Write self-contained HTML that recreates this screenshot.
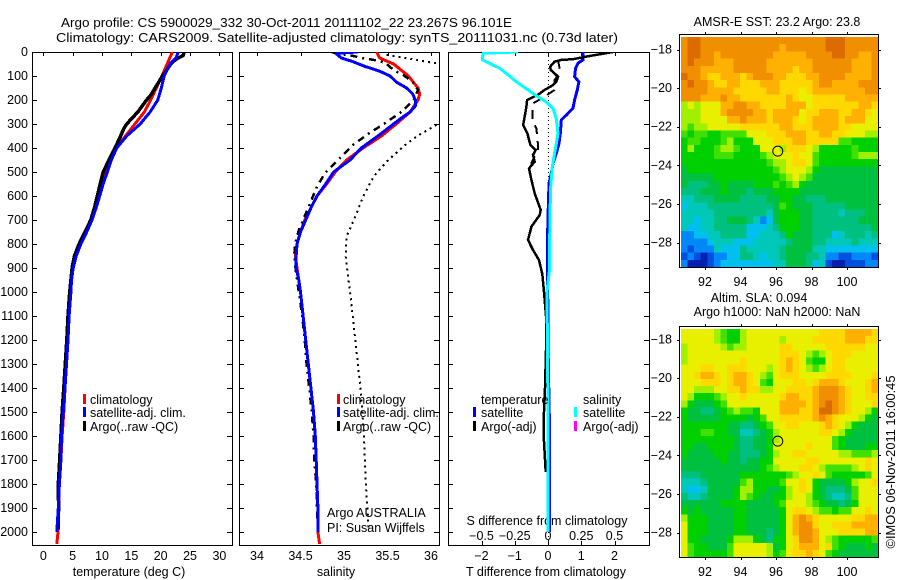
<!DOCTYPE html>
<html>
<head>
<meta charset="utf-8">
<title>Argo profile</title>
<style>
html,body{margin:0;padding:0;background:#fff}
svg{display:block}
text{font-family:"Liberation Sans",sans-serif;font-size:12.5px;fill:#000}
</style>
</head>
<body>
<svg id="fig" xmlns="http://www.w3.org/2000/svg" width="900" height="580" viewBox="0 0 900 580">
<text x="61" y="27" textLength="451" lengthAdjust="spacingAndGlyphs" style="font-size:13px">Argo profile: CS 5900029_332 30-Oct-2011 20111102_22 23.267S 96.101E</text>
<text x="56" y="42" textLength="562" lengthAdjust="spacingAndGlyphs" style="font-size:13px">Climatology: CARS2009. Satellite-adjusted climatology: synTS_20111031.nc (0.73d later)</text>
<g id="layer"></g>
</svg>
<script>
// ---- shared axis labels ----
const depthTicks = [0,100,200,300,400,500,600,700,800,900,1000,1100,1200,1300,1400,1500,1600,1700,1800,1900,2000];
const tempTicks = [0,5,10,15,20,25,30];
const salTicks = [34,34.5,35,35.5,36];
const tDiffTicks = [-2,-1,0,1,2];
const sDiffLabels = ['\u22120.5','\u22120.25','0','0.25','0.5'];
const lonTicks = [92,94,96,98,100];
const latTicks = [-18,-20,-22,-24,-26,-28];

// ---- temperature panel ----
const tClimDepth = [0,100,200,250,300,350,400,450,500,550,600,650,700,750,800,850,900,950,1000,1100,1200,1300,1400,1500,1600,1700,1800,1900,2000,2050];
const tClimVal = [22,20.2,18.3,17.2,15.6,14,12.5,11.5,10.7,10,9.5,8.9,8.3,7.3,6.3,5.5,5,4.8,4.7,4.4,4.2,3.95,3.7,3.5,3.2,3,2.7,2.6,2.5,2.3];
const tSatDepth = [0,25,50,100,150,200,250,300,350,400,450,500,550,600,650,700,750,800,850,900,950,1000,1100,1200,1300,1400,1500,1600,1700,1800,1900,2000];
const tSatVal = [23,22.6,21.6,20.6,20.1,19.5,18.2,16.5,14.2,12.5,11.6,10.9,10.2,9.6,9,8.3,7.4,6.4,5.6,5.1,4.8,4.7,4.4,4.2,3.95,3.7,3.4,3.1,3,2.75,2.55,2.3];
const tArgoDepth = [0,15,30,50,80,100,140,180,200,250,300,320,360,400,450,500,550,600,650,700,750,800,850,900,1000,1100,1200,1300,1400,1500,1600,1700,1800,1900,1990];
const tArgoVal = [24,23.8,22.6,21.7,20.9,20.3,19.3,18.3,17.6,16.1,14.2,13.7,13,12.2,11.2,10.2,9.7,9.2,8.7,8.1,7.1,6.1,5.3,4.9,4.5,4.2,4,3.75,3.5,3.2,3,2.8,2.55,2.6,2.5];

// ---- salinity panel ----
const sClimDepth = [0,25,50,100,150,175,200,250,300,350,400,450,500,550,600,650,700,750,800,850,900,950,1000,1100,1200,1300,1400,1500,1600,1700,1800,1900,2000,2050];
const sClimVal = [35.375,35.41,35.57,35.74,35.85,35.87,35.85,35.76,35.6,35.43,35.22,35.03,34.9,34.8,34.69,34.62,34.55,34.5,34.46,34.44,34.46,34.48,34.5,34.53,34.56,34.59,34.62,34.65,34.67,34.68,34.69,34.7,34.7,34.72];
const sSatDepth = [0,5,10,25,40,60,80,100,125,150,175,200,225,250,275,300,350,400,450,500,550,600,650,700,750,800,850,900,950,1000,1100,1200,1300,1400,1500,1600,1700,1800,1900,2000];
const sSatVal = [35.16,34.92,34.92,34.97,35.1,35.24,35.41,35.53,35.6,35.72,35.79,35.82,35.82,35.76,35.66,35.57,35.39,35.2,35.07,34.88,34.79,34.69,34.62,34.56,34.5,34.46,34.45,34.45,34.48,34.5,34.53,34.56,34.59,34.62,34.65,34.67,34.68,34.69,34.7,34.7];
const sArgoDepth = [0,5,12,26,33,44,75,96,124,158,200,249,297,336,388,450,505,561,630,700,742,797,839,894,1000,1100,1200,1300,1400,1500,1600,1700,1800,1900,1990];
const sArgoVal = [34.86,34.9,35.05,35.22,35.34,35.47,35.57,35.68,35.79,35.85,35.8,35.66,35.47,35.3,35.1,34.93,34.78,34.69,34.61,34.53,34.48,34.44,34.43,34.44,34.48,34.52,34.55,34.57,34.6,34.63,34.65,34.66,34.68,34.69,34.7];
const sDotDepth = [12,26,36,47,150,304,353,394,457,519,603,686,769,853,943,1000,1100,1200,1300,1400,1500,1600,1700,1800,1900,1990];
const sDotVal = [35.49,35.72,35.87,36.06,37.2,36.06,35.83,35.68,35.49,35.34,35.22,35.13,35.03,35.02,35.05,35.07,35.1,35.13,35.16,35.19,35.21,35.23,35.24,35.25,35.27,35.28];

// ---- difference panel (T-axis units) ----
const dBlueDepth = [0,33,47,68,103,124,158,200,235,263,283,339,381,422,464,506,547,644,742,839,1000,1300,1600,2000];
const dBlueVal = [1.05,1.05,.9,.83,.8,.93,.88,.8,.75,.55,.4,.37,.33,.25,.15,.1,.03,.01,-.01,-.01,-.01,.01,.05,.05];
const dCyanDepth = [0,5,19,33,44,68,96,124,158,178,200,214,235,278,339,381,422,478,561,672,775,900,1000,1500,2000];
const dCyanVal = [-.9,-1.95,-1.97,-1.97,-1.8,-1.45,-1.2,-.95,-.6,-.4,-.15,0,.15,.25,.3,.25,.2,.13,.08,.06,.05,.05,-.03,0,0];
const dBlackDepth = [0,12,19,30,33,40,61,75,89,103,124,138,158,178,200,228,269,304,339,388,408,429,457,485,533,589,658,679,728,783,825,867,925,1000,1100,1200,1400,1500,1600,1750];
const dBlackVal = [1.95,1.45,1.15,.75,.4,.2,.07,.08,.2,.3,.25,.15,-.1,-.3,-.63,-.65,-.7,-.75,-.62,-.53,-.37,-.45,-.4,-.57,-.5,-.4,-.22,-.25,-.5,-.6,-.45,-.27,-.17,-.12,-.06,-.05,-.09,-.12,-.13,-.07];
const dDashDepth = [33,83,117,158,186,214,249,285,319,388,408,463,490];
const dDashVal = [.3,.37,.2,.2,-.1,-.45,-.47,-.47,-.35,-.3,-.3,-.5,-.5];

// ---- map grids: one character per cell, index into colourLevels ----
const colourLevels = ['#0020b0','#0050e0','#0088f8','#00c0f0','#00c8b8','#00c080','#00c040','#00d000','#40e000','#a0f000','#e8f000','#ffd800','#ffb000','#f09000','#dc6c00'];
const sstRows = [
'deedddddddddddddddddddeeeddddd',
'deeddddddddddddcddddddeeeddddd',
'deeddcddddddddcccccddddeeddccd',
'dedddcccdddddcccccccddddddcccd',
'dddcccccdddddccccbccddddddcccd',
'eddcbbcccbcdddccbbbccddddccccd',
'deddcbbccbbbcccbbbbbcddccccddd',
'ddddccccbbbbbccbbbabccccccccdd',
'dddcccdccbbbbbbbcbaabbbbbccccc',
'9a9aaaccddccbbbbcccabbbbbbbccb',
'999aaacddddccbccccabbcccbbccba',
'999aaaaccdcccbcccbabccccbcccaa',
'9899aaaaabbbbbbccbbbccccbbaaaa',
'8788778888aaabbbcccbbccbbaaa99',
'78877789777aaabbbccbbbbb887777',
'797778998777aaa9bbba9777778777',
'77777888777789aaabaa8777778999',
'7777777777777899abba8777777777',
'6777777777777789aaa97666666666',
'66666777777777789a986666666666',
'655566766667778789766666666666',
'555666766656667777666666666666',
'445556666555566776655566666666',
'344455555555556876665555566666',
'444445555555546777665555455566',
'443445566654236777665555555666',
'433445555533345777665555555556',
'223344555533444576665553455545',
'222234443334444456665544445444',
'212224333544444566664433333333',
'121012233554344566655422112221',
'200012333333334466653410011122'
];
const slaRows = [
'aaaaa98779aaaaaaaaaaabbbbccccb',
'aaaaa98779aaaaa9aaaabbbbbcccbb',
'9aaaaa9899aaaaabbaaaaabbbbbbaa',
'9aaaaaaaaaaaaaabbba989abbbaaaa',
'9aaaaaaaabaaaaabcba877abbaaaaa',
'aaabbaabbbaaa9abcba989abbaaaaa',
'aabccbabccba98abbbaaaabbbbaaab',
'aaabbbabccba87aaabbabcccbaaabc',
'aa999aabbcbb99aabbbbcdddcbaabc',
'a977789aabaaaaabccbbcdddcbaabb',
'9766678aaaaaaaaccccbcdedcbaaab',
'766556789887aaacccbbceedcbaa97',
'766666777767 8aabbbbbcdcbaaa976'.replace(' ','').slice(0,30),
'777777766556 78aabbaaabcba97666'.replace(' ','').slice(0,30),
'7778877664456 79aaaaaabba976666'.replace(' ','').slice(0,30),
'7777777765566 79aaaaaaaa8766666'.replace(' ','').slice(0,30),
'7766777765566 7aaaaabaaa8766677'.replace(' ','').slice(0,30),
'7666677665556 79aabbaaaaa998889'.replace(' ','').slice(0,30),
'666666766566 77aaaaabbaaaaaaaba'.replace(' ','').slice(0,30),
'666666666666 789aaabba98888 9aba'.replace(/ /g,'').slice(0,30),
'55566666677777778 9aaba877777 8aba'.replace(/ /g,'').slice(0,30),
'444566666897777 8aaba7666679aab'.replace(/ /g,'').slice(0,30),
'4334666679977 6679aba7655568aaa'.replace(/ /g,'').slice(0,30),
'544566667987667 79aa97654458aaa'.replace(/ /g,'').slice(0,30),
'666666777766667 8aaa98766567aaa'.replace(/ /g,'').slice(0,30),
'7676666677666667abba988788aaba'.slice(0,30),
'9777666677666667acdcbaaaaabbcc',
'a777666677666667acddbaabbbcccc',
'a777666677666567acddcaaabbbbcc',
'a776666799976577abddca98777778'.slice(0,30),
'a877666 8aaaaa967abcccab87666766'.replace(' ','').slice(0,30),
'a8777778aaaaa978abbcba87666666'
];

const NS = 'http://www.w3.org/2000/svg';
const layer = document.getElementById('layer');
function mk(tag, attrs, name, parent) {
  const el = document.createElementNS(NS, tag);
  for (const k in attrs) el.setAttribute(k, attrs[k]);
  
  
  (parent || layer).appendChild(el);
  return el;
}
function label(x, y, s, anchor, name, parent) {
  const t = mk('text', {x: x, y: y, 'text-anchor': anchor || 'start'}, name, parent);
  t.textContent = s;
  return t;
}
const depthY = d => 52 + d * 0.24;
const tempX = v => 43.3 + v * 5.87;
const salX = v => 257 + (v - 34) * 87;
const diffX = v => 548 + v * 33.25;
const AX_TOP = 52, AX_BOT = 545;

function frame(x0, x1, topXs, name) {
  const g = mk('g', {stroke: '#000', 'stroke-width': 1, fill: 'none', 'shape-rendering': 'crispEdges'}, name);
  mk('rect', {x: x0 + .5, y: AX_TOP + .5, width: x1 - x0, height: AX_BOT - AX_TOP}, name + '-box', g);
  depthTicks.forEach(d => {
    const y = Math.round(depthY(d)) + .5;
    mk('line', {x1: x0, x2: x0 + 5, y1: y, y2: y}, 'depth-tick-left', g);
    mk('line', {x1: x1, x2: x1 - 5, y1: y, y2: y}, 'depth-tick-right', g);
  });
  topXs.forEach(x => {
    const px = Math.round(x) + .5;
    mk('line', {x1: px, x2: px, y1: AX_TOP, y2: AX_TOP + 4}, 'top-tick', g);
  });
  return g;
}
function clip(id, x0, x1) {
  const c = mk('clipPath', {id: id}, id);
  mk('rect', {x: x0, y: AX_TOP, width: x1 - x0, height: AX_BOT - AX_TOP}, id + '-rect', c);
}
function series(depths, vals, xf, color, width, dash, clipId, name) {
  const pts = depths.map((d, i) => xf(vals[i]).toFixed(1) + ',' + depthY(d).toFixed(1)).join(' ');
  const a = {points: pts, fill: 'none', stroke: color, 'stroke-width': width, 'shape-rendering': 'crispEdges', 'clip-path': 'url(#' + clipId + ')'};
  if (dash) a['stroke-dasharray'] = dash;
  mk('polyline', a, name);
}
function legend(barX, textX, y, color, s, name) {
  if (color) mk('rect', {x: barX, y: y - 10, width: 3, height: 10, fill: color}, name + '-swatch');
  label(textX, y, s, 'start', name + '-label');
}

// ---- temperature panel ----
frame(32, 232, tempTicks.map(tempX), 'temperature-axes');
clip('c1', 32, 232);
depthTicks.forEach(d => label(28, depthY(d) + 4, String(d), 'end', 'depth-tick-label'));
tempTicks.forEach(v => label(tempX(v), 560, String(v), 'middle', 'temperature-tick-label'));
label(129, 576, 'temperature (deg C)', 'middle', 'temperature-axis-title');
series(tClimDepth, tClimVal, tempX, '#ff0000', 3, null, 'c1', 'temperature-climatology-line');
series(tArgoDepth, tArgoVal, tempX, '#000000', 3.5, null, 'c1', 'temperature-argo-line');
series(tSatDepth, tSatVal, tempX, '#0000ff', 3, null, 'c1', 'temperature-satellite-line');
legend(83, 90, 404, '#ff0000', 'climatology', 'temperature-legend-climatology');
legend(83, 90, 417, '#0000ff', 'satellite-adj. clim.', 'temperature-legend-satellite');
legend(83, 90, 431, '#000000', 'Argo(..raw -QC)', 'temperature-legend-argo');

// ---- salinity panel ----
frame(239, 439, salTicks.map(salX), 'salinity-axes');
clip('c2', 239, 439);
salTicks.forEach(v => label(salX(v), 560, String(v), 'middle', 'salinity-tick-label'));
label(336, 576, 'salinity', 'middle', 'salinity-axis-title');
series(sDotDepth, sDotVal, salX, '#000000', 2, '2 4', 'c2', 'salinity-dotted-line');
series(sClimDepth, sClimVal, salX, '#ff0000', 3, null, 'c2', 'salinity-climatology-line');
series(sArgoDepth, sArgoVal, salX, '#000000', 2.5, '7 5 2 5', 'c2', 'salinity-argo-line');
series(sSatDepth, sSatVal, salX, '#0000ff', 3, null, 'c2', 'salinity-satellite-line');
legend(337, 343, 404, '#ff0000', 'climatology', 'salinity-legend-climatology');
legend(337, 343, 417, '#0000ff', 'satellite-adj. clim.', 'salinity-legend-satellite');
legend(337, 343, 431, '#000000', 'Argo(..raw -QC)', 'salinity-legend-argo');
label(327, 517, 'Argo AUSTRALIA', 'start', 'argo-program-label');
label(327, 532, 'PI: Susan Wijffels', 'start', 'principal-investigator-label');

// ---- difference panel ----
frame(448, 649, tDiffTicks.map(diffX), 'difference-axes');
clip('c3', 448, 649);
tDiffTicks.forEach((v, i) => {
  const px = Math.round(diffX(v)) + .5;
  mk('line', {x1: px, x2: px, y1: AX_BOT, y2: AX_BOT - 4, stroke: '#000', 'shape-rendering': 'crispEdges'}, 'difference-bottom-tick');
  label(diffX(v), 560, v < 0 ? '\u2212' + Math.abs(v) : String(v), 'middle', 'temperature-difference-tick-label');
  label(diffX(v), 540, sDiffLabels[i], 'middle', 'salinity-difference-tick-label');
});
label(547, 525, 'S difference from climatology', 'middle', 'salinity-difference-axis-title');
label(546, 576, 'T difference from climatology', 'middle', 'temperature-difference-axis-title');
mk('line', {x1: 548.5, x2: 548.5, y1: 52, y2: 545, stroke: '#000', 'stroke-dasharray': '1 3', 'shape-rendering': 'crispEdges'}, 'zero-difference-line');
series(dBlueDepth, dBlueVal, diffX, '#0000ff', 3, null, 'c3', 'temperature-satellite-difference-line');
series(dDashDepth, dDashVal, diffX, '#000000', 2, '9 7', 'c3', 'argo-adjusted-dashed-difference-line');
series(dBlackDepth, dBlackVal, diffX, '#000000', 2.5, null, 'c3', 'temperature-argo-difference-line');
series(dCyanDepth, dCyanVal, diffX, '#00ffff', 3, null, 'c3', 'salinity-satellite-difference-line');
legend(473, 481, 404, null, 'temperature', 'difference-legend-temperature-header');
legend(473, 481, 417, '#0000ff', 'satellite', 'difference-legend-temperature-satellite');
legend(473, 481, 431, '#000000', 'Argo(-adj)', 'difference-legend-temperature-argo');
legend(574, 583, 404, null, 'salinity', 'difference-legend-salinity-header');
legend(574, 583, 417, '#00ffff', 'satellite', 'difference-legend-salinity-satellite');
legend(574, 583, 431, '#ff00ff', 'Argo(-adj)', 'difference-legend-salinity-argo');

// ---- maps ----
function drawMap(rows, top, bottom, lat18, name) {
  const L = 679, R = 878, imgL = 681, imgT = top + 3;
  const lonX = v => 705 + (v - 92) * 17.75;
  const latY = v => lat18 + (-18 - v) * 19.3;
  const g = mk('g', {'shape-rendering': 'crispEdges'}, name);
  const nR = rows.length, cw = (R - imgL) / 30, ch = (bottom - imgT) / nR;
  rows.forEach((r, j) => {
    for (let i = 0; i < 30; i++) {
      const c = colourLevels[parseInt(r[i] || r[r.length - 1], 16)];
      mk('rect', {x: (imgL + i * cw).toFixed(2), y: (imgT + j * ch).toFixed(2), width: (cw + .6).toFixed(2), height: (ch + .6).toFixed(2), fill: c}, 'map-cell', g);
    }
  });
  mk('rect', {x: L + .5, y: top + .5, width: R - L, height: bottom - top, fill: 'none', stroke: '#000'}, name + '-frame', g);
  lonTicks.forEach(v => {
    const x = Math.round(lonX(v)) + .5;
    mk('line', {x1: x, x2: x, y1: top - 2, y2: top, stroke: '#000'}, 'longitude-tick', g);
    mk('line', {x1: x, x2: x, y1: bottom + 1, y2: bottom + 3, stroke: '#000'}, 'longitude-tick', g);
    label(lonX(v), bottom + 19, String(v), 'middle', 'longitude-tick-label');
  });
  latTicks.forEach(v => {
    const y = Math.round(latY(v)) + .5;
    mk('line', {x1: L - 2, x2: L, y1: y, y2: y, stroke: '#000'}, 'latitude-tick', g);
    mk('line', {x1: R + 1, x2: R + 3, y1: y, y2: y, stroke: '#000'}, 'latitude-tick', g);
    label(672, latY(v) + 4, '\u2212' + Math.abs(v), 'end', 'latitude-tick-label');
  });
  mk('circle', {cx: lonX(96.1), cy: latY(-23.267), r: 5, fill: 'none', stroke: '#000', 'stroke-width': 1}, name + '-argo-position-marker');
}
drawMap(sstRows, 34, 267, 49.5, 'sst-map');
drawMap(slaRows, 326, 557, 339.5, 'sla-map');
label(777, 26, 'AMSR-E SST: 23.2 Argo: 23.8', 'middle', 'sst-map-title');
label(759, 302, 'Altim. SLA: 0.094', 'middle', 'sla-map-title');
label(777, 316, 'Argo h1000: NaN h2000: NaN', 'middle', 'sla-map-subtitle');
const stamp = label(0, 0, '\u00A9IMOS 06-Nov-2011 16:00:45', 'middle', 'timestamp-label');
stamp.setAttribute('transform', 'translate(895,462) rotate(-90)');
stamp.setAttribute('textLength', '173');
stamp.setAttribute('lengthAdjust', 'spacingAndGlyphs');
</script>
</body>
</html>
